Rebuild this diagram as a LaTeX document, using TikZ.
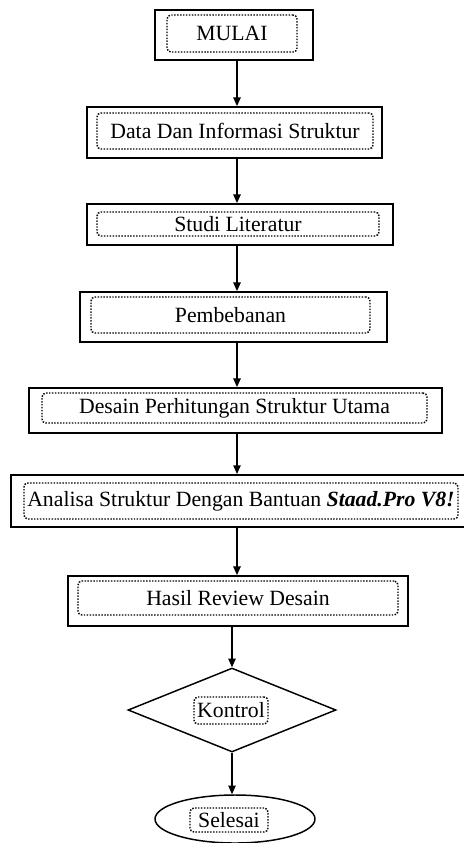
\documentclass[tikz,border=0pt]{standalone}
\usepackage{fontspec}
\setmainfont{Liberation Serif}
\usetikzlibrary{positioning, arrows.meta, shapes.geometric, calc}

\begin{document}
\begin{tikzpicture}[
    x=0.75pt, y=-0.75pt,
    kotak/.style={rectangle, draw, line width=1.3pt, inner sep=0pt},
    isi/.style={rectangle, draw, dash pattern=on 1.1pt off 1.1pt, line width=1.1pt, rounded corners=3pt, inner sep=0pt, align=center, font=\fontsize{16.3}{19}\selectfont},
    panah/.style={-{Triangle[length=6.5pt, width=5.5pt]}, line width=1.1pt}
]
\useasboundingbox (0,0) rectangle (464,843);
\coordinate (sumbu) at (237,0);

% kotak luar
\node[kotak, minimum width=118.5pt, minimum height=37.5pt] (mulai) at (234, 35) {};
\node[kotak, minimum width=221.25pt, minimum height=38.25pt] (data) at (234.5, 132.5) {};
\node[kotak, minimum width=229.5pt, minimum height=30.75pt] (studi) at (240, 224.5) {};
\node[kotak, minimum width=230.25pt, minimum height=37.5pt] (beban) at (233.5, 317) {};
\node[kotak, minimum width=309.75pt, minimum height=33.75pt] (desain) at (235.5, 410.5) {};
\node[kotak, line width=1.5pt, minimum width=348pt, minimum height=39pt] (analisa) at (243, 501) {};
\node[kotak, minimum width=255pt, minimum height=37.5pt] (hasil) at (238, 601) {};
\node[diamond, draw, line width=1.1pt, inner sep=0pt, aspect=2.5, minimum width=156pt, minimum height=63pt] (kontrol) at (232, 710) {};
\node[ellipse, draw, line width=1.1pt, inner sep=0pt, minimum width=120pt, minimum height=36pt] (selesai) at (235, 819) {};

% kotak titik-titik
\node[isi, minimum width=97.5pt, minimum height=27.75pt] (mulai-t) at (232, 33.5) {MULAI};
\node[isi, minimum width=207pt, minimum height=27pt] (data-t) at (235, 131) {Data Dan Informasi Struktur};
\node[isi, minimum width=211.5pt, minimum height=18pt] (studi-t) at (238, 224) {Studi Literatur};
\node[isi, minimum width=209.25pt, minimum height=27pt] (beban-t) at (230.5, 315) {Pembebanan};
\node[isi, minimum width=288.75pt, minimum height=22.5pt] (desain-t) at (234.5, 408) {Desain Perhitungan Struktur Utama};
\node[isi, minimum width=325.5pt, minimum height=27pt] (analisa-t) at (241, 501) {Analisa Struktur Dengan Bantuan \textbf{\textit{Staad.Pro V8!}}};
\node[isi, minimum width=240pt, minimum height=25.5pt] (hasil-t) at (238, 598) {Hasil Review Desain};
\node[isi, minimum width=55.5pt, minimum height=20.25pt] (kontrol-t) at (231, 710.5) {Kontrol};
\node[isi, minimum width=58.5pt, minimum height=18pt] (selesai-t) at (229, 820) {Selesai};

% panah
\draw[panah] (mulai.south -| sumbu) -- (data.north -| sumbu);
\draw[panah] (data.south -| sumbu) -- (studi.north -| sumbu);
\draw[panah] (studi.south -| sumbu) -- (beban.north -| sumbu);
\draw[panah] (beban.south -| sumbu) -- (desain.north -| sumbu);
\draw[panah] (desain.south -| sumbu) -- (analisa.north -| sumbu);
\draw[panah] (analisa.south -| sumbu) -- (hasil.north -| sumbu);
\draw[panah] (hasil.south -| kontrol.north) -- (kontrol.north);
\draw[panah] (kontrol.south) -- (kontrol.south |- selesai.north);

\end{tikzpicture}
\end{document}
